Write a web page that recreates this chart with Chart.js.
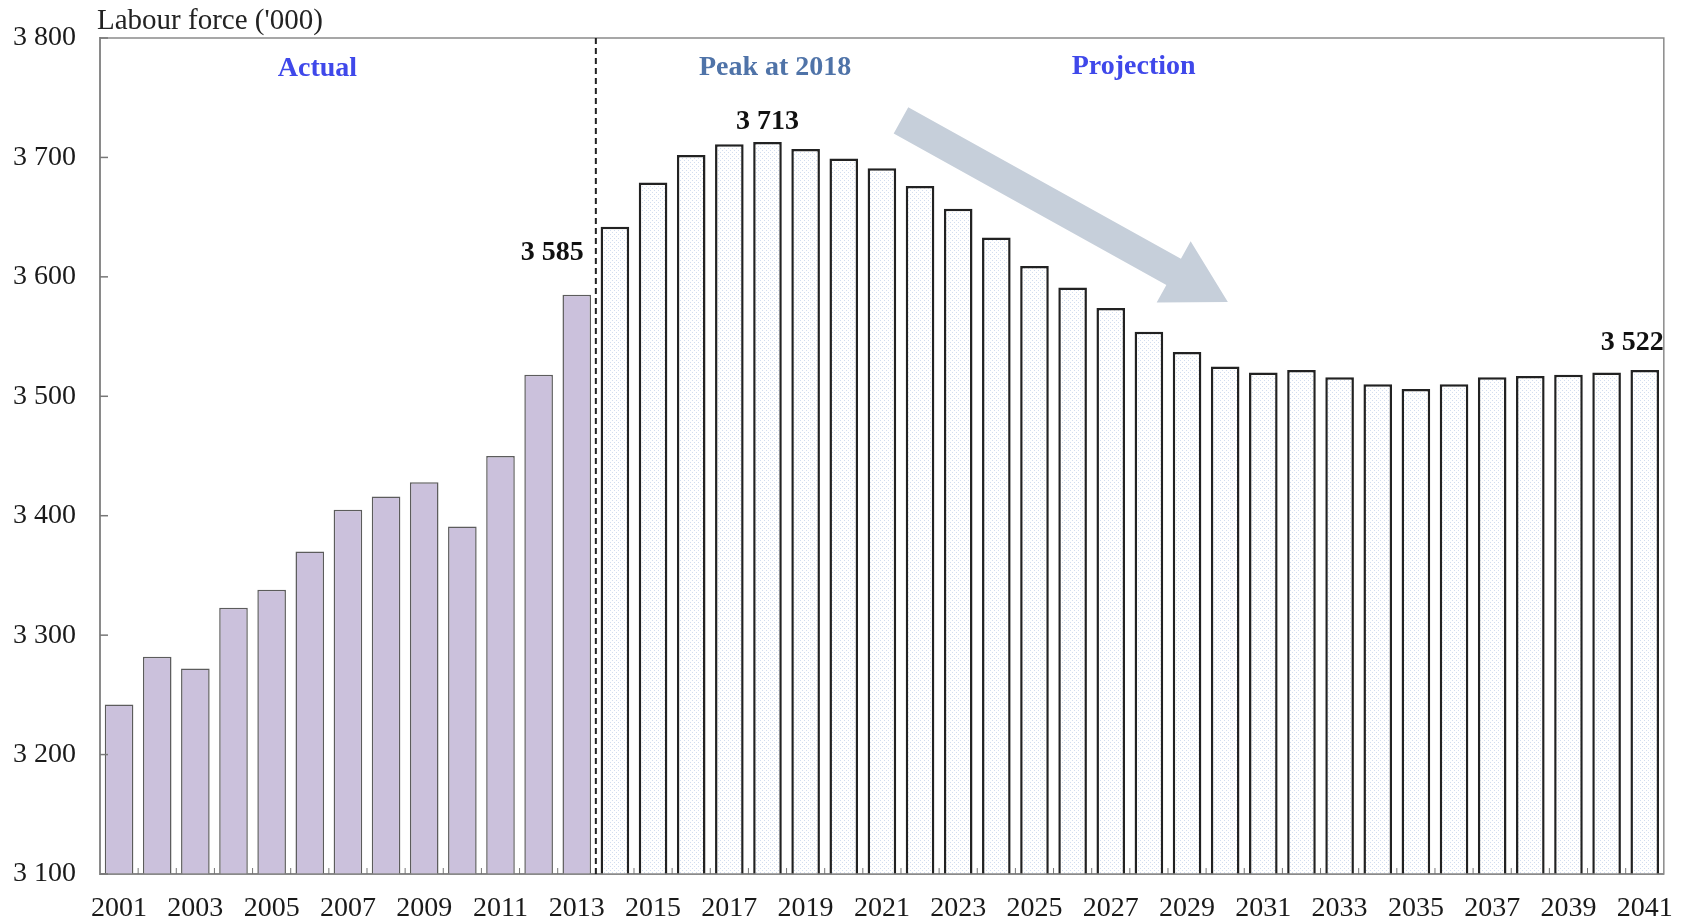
<!DOCTYPE html>
<html>
<head>
<meta charset="utf-8">
<script src="https://cdn.jsdelivr.net/npm/chart.js@4.4.0/dist/chart.umd.min.js"></script>
<style>
    html, body { margin: 0; padding: 0; background: #fff; }
    #wrap { width: 1691px; height: 921px; position: relative; }
</style>
</head>
<body>
<div id="wrap"><canvas id="labourChart"></canvas></div>
<script>
const years = ['2001', '2002', '2003', '2004', '2005', '2006', '2007', '2008', '2009', '2010',
    '2011', '2012', '2013', '2014', '2015', '2016', '2017', '2018', '2019', '2020',
    '2021', '2022', '2023', '2024', '2025', '2026', '2027', '2028', '2029', '2030',
    '2031', '2032', '2033', '2034', '2035', '2036', '2037', '2038', '2039', '2040', '2041'];

// Labour force ('000), actual 2001-2013
const actualValues = [3242, 3282, 3272, 3323, 3338, 3370, 3405, 3416, 3428, 3391, 3450, 3518, 3585];

// Projection 2014-2041
const projectedValues = [3642, 3679, 3702, 3711, 3713, 3707, 3699, 3691, 3676, 3657,
    3633, 3609, 3591, 3574, 3554, 3537, 3525, 3520, 3522, 3516,
    3510, 3506, 3510, 3516, 3517, 3518, 3520, 3522];

const yTicks = [3100, 3200, 3300, 3400, 3500, 3600, 3700, 3800];

const SERIF = '"Liberation Serif", "Times New Roman", serif';

function makeDotPattern() {
    const c = document.createElement('canvas');
    c.width = 4;
    c.height = 4;
    const g = c.getContext('2d');
    g.fillStyle = '#ffffff';
    g.fillRect(0, 0, 4, 4);
    g.fillStyle = '#d2ddef';
    g.fillRect(0, 0, 1, 1);
    g.fillRect(2, 2, 1, 1);
    return g.createPattern(c, 'repeat');
}

function formatThousands(v) {
    return String(v).replace(/\B(?=(\d{3})+(?!\d))/g, ' ');
}

const allValues = actualValues.concat(projectedValues);
const dots = makeDotPattern();
const fills = allValues.map((v, i) => i < actualValues.length ? '#cbc1dc' : dots);
const borders = allValues.map((v, i) => i < actualValues.length ? '#5c5c5c' : '#222222');
const borderWidths = allValues.map((v, i) => i < actualValues.length ? 1.5 : 2.5);

// extra drawing: frame, ticks, dashed divider, labels, arrow
const decorations = {
    id: 'decorations',
    afterDatasetsDraw(chart) {
        const ctx = chart.ctx;
        const area = chart.chartArea;
        const x = chart.scales.x;
        const y = chart.scales.y;
        ctx.save();

        // frame
        ctx.strokeStyle = '#8a8a8a';
        ctx.lineWidth = 1.5;
        ctx.strokeRect(area.left, area.top, area.right - area.left, area.bottom - area.top);

        // inward y ticks
        ctx.strokeStyle = '#777';
        ctx.lineWidth = 1.5;
        yTicks.forEach(v => {
            const py = y.getPixelForValue(v);
            ctx.beginPath();
            ctx.moveTo(area.left, py);
            ctx.lineTo(area.left + 8, py);
            ctx.stroke();
        });

        // small x ticks between bars
        ctx.lineWidth = 1;
        for (let i = 1; i < years.length; i++) {
            const px = (x.getPixelForValue(i - 1) + x.getPixelForValue(i)) / 2;
            ctx.beginPath();
            ctx.moveTo(px, area.bottom);
            ctx.lineTo(px, area.bottom - 6);
            ctx.stroke();
        }

        // dashed divider between actual and projection
        const split = actualValues.length;
        const dx = (x.getPixelForValue(split - 1) + x.getPixelForValue(split)) / 2;
        ctx.strokeStyle = '#222';
        ctx.lineWidth = 2;
        ctx.setLineDash([6, 4]);
        ctx.beginPath();
        ctx.moveTo(dx, area.top);
        ctx.lineTo(dx, area.bottom);
        ctx.stroke();
        ctx.setLineDash([]);

        // arrow (data coordinates)
        const tx = x.getPixelForValue(20.5), ty = y.getPixelForValue(3731);
        const hx = x.getPixelForValue(29.07), hy = y.getPixelForValue(3579);
        const ang = Math.atan2(hy - ty, hx - tx);
        const len = Math.hypot(hx - tx, hy - ty);
        const shaft = 30, headLen = 62, headW = 70;
        ctx.translate(tx, ty);
        ctx.rotate(ang);
        ctx.fillStyle = '#c6cfda';
        ctx.beginPath();
        ctx.moveTo(0, -shaft / 2);
        ctx.lineTo(len - headLen, -shaft / 2);
        ctx.lineTo(len - headLen, -headW / 2);
        ctx.lineTo(len, 0);
        ctx.lineTo(len - headLen, headW / 2);
        ctx.lineTo(len - headLen, shaft / 2);
        ctx.lineTo(0, shaft / 2);
        ctx.closePath();
        ctx.fill();
        ctx.setTransform(1, 0, 0, 1, 0, 0);

        // axis title
        ctx.font = '29px ' + SERIF;
        ctx.fillStyle = '#222';
        ctx.textAlign = 'left';
        ctx.textBaseline = 'middle';
        ctx.fillText("Labour force ('000)", area.left - 3, area.top - 17);

        // section labels
        ctx.font = 'bold 28px ' + SERIF;
        ctx.textAlign = 'center';
        ctx.fillStyle = '#3f48ea';
        ctx.fillText('Actual', x.getPixelForValue(5.2), area.top + 31);
        ctx.fillStyle = '#4f73a8';
        ctx.fillText('Peak at 2018', x.getPixelForValue(17.2), area.top + 30);
        ctx.fillStyle = '#3f48ea';
        ctx.fillText('Projection', x.getPixelForValue(26.6), area.top + 29);

        // value labels
        ctx.fillStyle = '#111';
        const peakIdx = allValues.indexOf(Math.max(...allValues));
        ctx.fillText(formatThousands(allValues[peakIdx]),
            x.getPixelForValue(peakIdx), y.getPixelForValue(allValues[peakIdx]) - 20);
        ctx.textAlign = 'right';
        ctx.fillText(formatThousands(allValues[split - 1]),
            x.getPixelForValue(split - 1) + 7, y.getPixelForValue(allValues[split - 1]) - 42);
        const last = allValues.length - 1;
        ctx.fillText(formatThousands(allValues[last]),
            x.getPixelForValue(last) + 19, y.getPixelForValue(allValues[last]) - 27);

        ctx.restore();
    }
};

const chart = new Chart(document.getElementById('labourChart'), {
    type: 'bar',
    data: {
        labels: years,
        datasets: [{
            data: allValues,
            backgroundColor: fills,
            borderColor: borders,
            borderWidth: borderWidths,
            borderSkipped: false,
            barPercentage: 0.75,
            categoryPercentage: 1.0
        }]
    },
    options: {
        responsive: true,
        maintainAspectRatio: false,
        animation: false,
        layout: {
            padding: { top: 37, right: 21, left: 0, bottom: 0 }
        },
        plugins: {
            legend: { display: false },
            tooltip: { enabled: false }
        },
        scales: {
            x: {
                grid: { display: false, drawTicks: false },
                border: { display: true, color: '#8a8a8a', width: 2 },
                ticks: {
                    autoSkip: false,
                    maxRotation: 0,
                    padding: 18,
                    color: '#1a1a1a',
                    font: { family: SERIF, size: 28 },
                    callback: function(val, i) {
                        return i % 2 === 0 ? this.getLabelForValue(val) : '';
                    }
                },
                afterFit: function(scale) { scale.height = 47; }
            },
            y: {
                min: 3100,
                max: 3800,
                grid: { display: false, drawTicks: false },
                border: { display: true, color: '#8a8a8a', width: 2 },
                ticks: {
                    stepSize: 100,
                    padding: 24,
                    color: '#1a1a1a',
                    font: { family: SERIF, size: 28, lineHeight: 1 },
                    callback: v => formatThousands(v)
                },
                afterFit: function(scale) { scale.width = 100; }
            }
        }
    },
    plugins: [decorations]
});
</script>
</body>
</html>
